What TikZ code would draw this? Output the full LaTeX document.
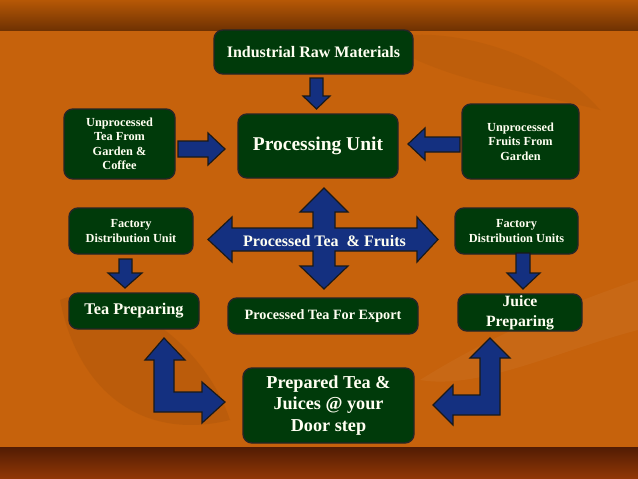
\documentclass[tikz,border=0pt]{standalone}
\usepackage{fontspec}
\setmainfont{Liberation Serif}
\definecolor{bgorange}{RGB}{198,98,12}
\definecolor{topA}{RGB}{182,88,6}
\definecolor{topB}{RGB}{112,50,2}
\definecolor{botA}{RGB}{82,28,4}
\definecolor{botB}{RGB}{146,56,6}
\definecolor{boxgreen}{RGB}{0,58,10}
\definecolor{arrowblue}{RGB}{20,48,128}
\definecolor{txt}{RGB}{255,255,242}
\tikzset{
  gbox/.style={draw=black!85, line width=1.4pt, fill=boxgreen, rounded corners=9pt,
    text=txt, font=\bfseries, align=center, inner sep=1pt},
  barrow/.style={draw=black!90, line width=1.2pt, fill=arrowblue, line join=miter}
}
\begin{document}
\begin{tikzpicture}[x=1pt,y=-1pt]
\useasboundingbox (0,0) rectangle (638,479);
% background
\fill[bgorange] (0,0) rectangle (638,479);
\fill[bgorange!85!black, opacity=0.35] (60,300) .. controls (100,280) and (200,330) .. (230,420) .. controls (150,440) and (80,400) .. (60,300) -- cycle;
\fill[bgorange!80!white, opacity=0.2] (420,380) .. controls (500,330) and (580,300) .. (638,280) -- (638,330) .. controls (560,350) and (480,390) .. (420,380) -- cycle;
\fill[bgorange!85!black, opacity=0.25] (380,40) .. controls (450,20) and (560,60) .. (600,110) .. controls (520,90) and (440,80) .. (380,40) -- cycle;
\shade[top color=topA, bottom color=topB] (0,0) rectangle (638,30);
\shade[top color=botA, bottom color=botB] (0,447) rectangle (638,479);

% boxes
\node[gbox, minimum width=199pt, minimum height=44pt, font=\bfseries\fontsize{16}{18}\selectfont] (raw) at (313.5,52) {Industrial Raw Materials};
\node[gbox, minimum width=160pt, minimum height=64pt, font=\bfseries\fontsize{19.5}{22}\selectfont] (proc) at (318,146) {Processing Unit};
\node[gbox, minimum width=111pt, minimum height=70pt, font=\bfseries\fontsize{12.3}{14.5}\selectfont] (utea) at (119.5,144) {Unprocessed\\Tea From\\Garden \&\\Coffee};
\node[gbox, minimum width=117pt, minimum height=75pt, font=\bfseries\fontsize{12.3}{14.5}\selectfont] (ufruit) at (520.5,141.5) {Unprocessed\\Fruits From\\Garden};
\node[gbox, minimum width=124pt, minimum height=46pt, font=\bfseries\fontsize{12.3}{15}\selectfont] (fdu) at (131,231) {Factory\\Distribution Unit};
\node[gbox, minimum width=123pt, minimum height=46pt, font=\bfseries\fontsize{12.3}{15}\selectfont] (fdus) at (516.5,231) {Factory\\Distribution Units};
\node[gbox, minimum width=130pt, minimum height=36pt, font=\bfseries\fontsize{16.3}{18}\selectfont] (teaprep) at (134,311) {Tea Preparing};
\node[gbox, minimum width=190pt, minimum height=36pt, font=\bfseries\fontsize{14.2}{16}\selectfont] (export) at (323,316) {Processed Tea For Export};
\node[gbox, minimum width=124pt, minimum height=37pt, font=\bfseries\fontsize{15.7}{20}\selectfont] (juice) at (520,312.5) {Juice\\Preparing};
\node[gbox, minimum width=171pt, minimum height=75pt, font=\bfseries\fontsize{18.2}{21.7}\selectfont] (door) at (328.5,405.5) {Prepared Tea \&\\Juices @ your\\Door step};

% straight block arrows
\draw[barrow] (310,78) -- (323,78) -- (323,96) -- (330,96) -- (316.5,109) -- (303,96) -- (310,96) -- cycle;
\draw[barrow] (178,141) -- (208,141) -- (208,133) -- (225,149) -- (208,165) -- (208,157) -- (178,157) -- cycle;
\draw[barrow] (460,137) -- (425,137) -- (425,128) -- (408,144) -- (425,160) -- (425,152) -- (460,152) -- cycle;
\draw[barrow] (119,259) -- (132,259) -- (132,273) -- (142,273) -- (125,288) -- (108,273) -- (119,273) -- cycle;
\draw[barrow] (516,253) -- (530,253) -- (530,273) -- (540,273) -- (523,289) -- (507,273) -- (516,273) -- cycle;

% cross arrow
\draw[barrow] (324,188) -- (348,212) -- (335,212) -- (335,228) -- (417,228) -- (417,217) -- (438,239.5)
  -- (417,262) -- (417,251) -- (335,251) -- (335,266) -- (348,266) -- (324,289) -- (300,266)
  -- (313,266) -- (313,251) -- (232,251) -- (232,262) -- (208,239.5) -- (232,217) -- (232,228)
  -- (313,228) -- (313,212) -- (300,212) -- cycle;
\node[text=txt, font=\bfseries\fontsize{16}{18}\selectfont] (ptf) at (324.5,241) {Processed Tea~~\& Fruits};

% L arrows
\draw[barrow] (164,338) -- (185,360) -- (174,360) -- (174,392) -- (202,392) -- (202,382) -- (225,402)
  -- (202,423) -- (202,412) -- (154,412) -- (154,360) -- (145,360) -- cycle;
\draw[barrow] (490,338) -- (510,358) -- (500,358) -- (500,415) -- (453,415) -- (453,425) -- (433,405)
  -- (453,385) -- (453,395) -- (480,395) -- (480,358) -- (470,358) -- cycle;
\end{tikzpicture}
\end{document}
